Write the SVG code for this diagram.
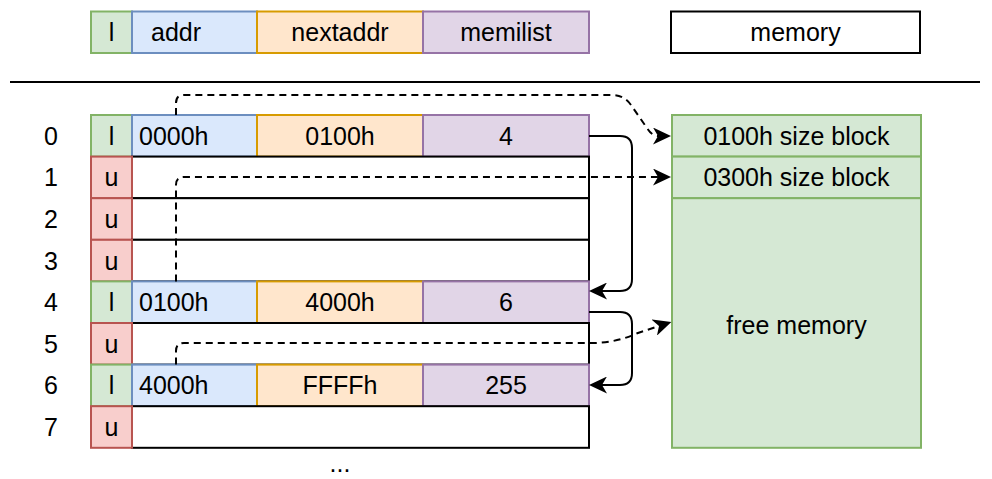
<svg xmlns="http://www.w3.org/2000/svg" width="992" height="479" viewBox="0 0 992 479">
  <style>
    text { font-family: "Liberation Sans", Arial, Helvetica, sans-serif; font-size: 25px; fill: #000; }
    .c { text-anchor: middle; }
    .s { text-anchor: start; }
    .lc { fill: #d5e8d4; stroke: #82b366; stroke-width: 2; }
    .uc { fill: #f8cecc; stroke: #b85450; stroke-width: 2; }
    .ad { fill: #dae8fc; stroke: #6c8ebf; stroke-width: 2; }
    .nx { fill: #ffe6cc; stroke: #d79b00; stroke-width: 2; }
    .ml { fill: #e1d5e7; stroke: #9673a6; stroke-width: 2; }
    .empty { fill: #ffffff; stroke: #000; stroke-width: 2; }
    .mem { fill: #d5e8d4; stroke: #82b366; stroke-width: 2; }
    .edge { fill: none; stroke: #000; stroke-width: 2; }
    .dash { stroke-dasharray: 7 5; }
  </style>
  <defs>
    <marker id="arrow" viewBox="0 0 18 17" refX="5" refY="8.5" markerWidth="18" markerHeight="17" markerUnits="userSpaceOnUse" orient="auto">
      <path d="M18,8.5 L0,0 L5,8.5 L0,17 Z" fill="#000" stroke="none"/>
    </marker>
  </defs>

  <!-- legend: entry layout -->
  <g id="legend-entry">
    <rect class="lc" x="91" y="11.5" width="41" height="41.5"/>
    <text class="c" x="111.5" y="41">l</text>
    <rect class="ad" x="132" y="11.5" width="125" height="41.5"/>
    <text class="s" x="151" y="41">addr</text>
    <rect class="nx" x="257" y="11.5" width="166" height="41.5"/>
    <text class="c" x="340" y="41">nextaddr</text>
    <rect class="ml" x="423" y="11.5" width="166" height="41.5"/>
    <text class="c" x="506" y="41">memilist</text>
  </g>

  <!-- legend: memory -->
  <g id="legend-memory">
    <rect x="671" y="11.5" width="249" height="41.5" fill="#ffffff" stroke="#000" stroke-width="2"/>
    <text class="c" x="795.5" y="41">memory</text>
  </g>

  <!-- separator -->
  <line x1="10" y1="82" x2="980" y2="82" stroke="#000" stroke-width="2"/>

  <!-- row indices -->
  <g id="row-indices">
    <text class="c" x="51" y="144.5">0</text>
    <text class="c" x="51" y="186">1</text>
    <text class="c" x="51" y="227.5">2</text>
    <text class="c" x="51" y="269.5">3</text>
    <text class="c" x="51" y="311">4</text>
    <text class="c" x="51" y="352.5">5</text>
    <text class="c" x="51" y="394">6</text>
    <text class="c" x="51" y="435.5">7</text>
  </g>

  <!-- table rows -->
  <g id="row0">
    <rect class="lc" x="91" y="115" width="41" height="41.6"/>
    <text class="c" x="111.5" y="144.5">l</text>
    <rect class="ad" x="132" y="115" width="125" height="41.6"/>
    <text class="s" x="139" y="144.5">0000h</text>
    <rect class="nx" x="257" y="115" width="166" height="41.6"/>
    <text class="c" x="340" y="144.5">0100h</text>
    <rect class="ml" x="423" y="115" width="166" height="41.6"/>
    <text class="c" x="506" y="144.5">4</text>
  </g>
  <g id="row1">
    <rect class="empty" x="132" y="156.6" width="457" height="41.6"/>
    <rect class="uc" x="91" y="156.6" width="41" height="41.6"/>
    <text class="c" x="111.5" y="186">u</text>
  </g>
  <g id="row2">
    <rect class="empty" x="132" y="198.2" width="457" height="41.6"/>
    <rect class="uc" x="91" y="198.2" width="41" height="41.6"/>
    <text class="c" x="111.5" y="227.5">u</text>
  </g>
  <g id="row3">
    <rect class="empty" x="132" y="239.8" width="457" height="41.6"/>
    <rect class="uc" x="91" y="239.8" width="41" height="41.6"/>
    <text class="c" x="111.5" y="269.5">u</text>
  </g>
  <g id="row4">
    <rect class="lc" x="91" y="281.4" width="41" height="41.6"/>
    <text class="c" x="111.5" y="311">l</text>
    <rect class="ad" x="132" y="281.4" width="125" height="41.6"/>
    <text class="s" x="139" y="311">0100h</text>
    <rect class="nx" x="257" y="281.4" width="166" height="41.6"/>
    <text class="c" x="340" y="311">4000h</text>
    <rect class="ml" x="423" y="281.4" width="166" height="41.6"/>
    <text class="c" x="506" y="311">6</text>
  </g>
  <g id="row5">
    <rect class="empty" x="132" y="323" width="457" height="41.6"/>
    <rect class="uc" x="91" y="323" width="41" height="41.6"/>
    <text class="c" x="111.5" y="352.5">u</text>
  </g>
  <g id="row6">
    <rect class="lc" x="91" y="364.6" width="41" height="41.6"/>
    <text class="c" x="111.5" y="394">l</text>
    <rect class="ad" x="132" y="364.6" width="125" height="41.6"/>
    <text class="s" x="139" y="394">4000h</text>
    <rect class="nx" x="257" y="364.6" width="166" height="41.6"/>
    <text class="c" x="340" y="394">FFFFh</text>
    <rect class="ml" x="423" y="364.6" width="166" height="41.6"/>
    <text class="c" x="506" y="394">255</text>
  </g>
  <g id="row7">
    <rect class="empty" x="132" y="406.2" width="457" height="41.6"/>
    <rect class="uc" x="91" y="406.2" width="41" height="41.6"/>
    <text class="c" x="111.5" y="435.5">u</text>
  </g>

  <text id="ellipsis" class="c" x="340" y="472">...</text>

  <!-- memory layout -->
  <g id="block-0100h">
    <rect class="mem" x="672" y="115" width="249" height="41.6"/>
    <text class="c" x="796.5" y="144.5">0100h size block</text>
  </g>
  <g id="block-0300h">
    <rect class="mem" x="672" y="156.6" width="249" height="41.6"/>
    <text class="c" x="796.5" y="186">0300h size block</text>
  </g>
  <g id="free-memory">
    <rect class="mem" x="672" y="198.2" width="249" height="249.6"/>
    <text class="c" x="796.5" y="333.5">free memory</text>
  </g>

  <!-- connectors -->
  <g id="connectors">
    <!-- addr -> memory blocks -->
    <path class="edge dash" marker-end="url(#arrow)" d="M176,115 V103 Q176,95 184,95 H612 Q624,95 631,105 L647,128 Q652,136 658,136"/>
    <path class="edge dash" marker-end="url(#arrow)" d="M176,281.4 V185 Q176,177 184,177 H658"/>
    <path class="edge dash" marker-end="url(#arrow)" d="M176,364.6 V351 Q176,343 184,343 H592 Q616,343 638,333 L659,326"/>
    <!-- memilist chain -->
    <path class="edge" marker-end="url(#arrow)" d="M589,136 H620 Q632,136 632,148 V279 Q632,291 620,291 H602"/>
    <path class="edge" marker-end="url(#arrow)" d="M589,312 H620 Q632,312 632,324 V373 Q632,385 620,385 H602"/>
  </g>
</svg>
